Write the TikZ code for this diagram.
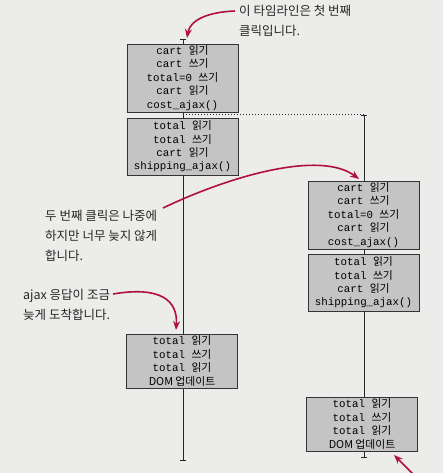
\documentclass[tikz,border=0pt]{standalone}
\usepackage{fontspec}
\setmonofont{Liberation Mono}
\newfontfamily\krfont{Noto Sans CJK KR}
\usetikzlibrary{arrows.meta}
\newcommand\cd[1]{{\ttfamily #1}}
\newcommand\cdk[2]{{\ttfamily #1\ }#2}
\definecolor{paper}{HTML}{ECECEA}
\definecolor{boxfill}{HTML}{C4C4C4}
\definecolor{crim}{HTML}{B01040}
\tikzset{
  opbox/.style={draw=black!80, fill=boxfill, line width=0.9pt, inner sep=0pt,
    minimum width=111pt, align=center, font=\fontsize{10.8}{13.4}\krfont},
  tline/.style={draw=black!85, line width=0.9pt},
  callout/.style={font=\fontsize{12.5}{20}\krfont, align=left, inner sep=0pt, anchor=west, text=black!85},
  pointer/.style={draw=crim, line width=1.6pt, -{Stealth[length=9pt,width=7pt]}},
}
\begin{document}
\begin{tikzpicture}[x=1pt,y=-1pt]
\fill[paper] (0,0) rectangle (443,473);
\useasboundingbox (0,0) rectangle (443,473);
% timelines
\coordinate (lt) at (183,39);
\coordinate (lb) at (183,460);
\coordinate (rt) at (364,115);
\coordinate (rb) at (364,457);
\draw[tline] (lt) -- (lb);
\draw[tline] (rt) -- (rb);
\draw[tline] ([xshift=-3pt]lt) -- ([xshift=3pt]lt);
\draw[tline] ([xshift=-3pt]lb) -- ([xshift=3pt]lb);
\draw[tline] ([xshift=-3pt]rt) -- ([xshift=3pt]rt);
\draw[tline] ([xshift=-3pt]rb) -- ([xshift=3pt]rb);
\coordinate (lsplit) at (183,115);
\draw[black!85, line width=1pt, dotted] (lsplit) -- (rt);
% boxes
\node[opbox, minimum height=68pt] (b1) at (182.5,78)
  {\cdk{cart}{읽기}\\\cdk{cart}{쓰기}\\\cdk{total=0}{쓰기}\\\cdk{cart}{읽기}\\\cd{cost\_ajax()}};
\node[opbox, minimum height=57pt] (b2) at (182.5,146.5)
  {\cdk{total}{읽기}\\\cdk{total}{쓰기}\\\cdk{cart}{읽기}\\\cd{shipping\_ajax()}};
\node[opbox, minimum height=68pt] (b3) at (363.5,215)
  {\cdk{cart}{읽기}\\\cdk{cart}{쓰기}\\\cdk{total=0}{쓰기}\\\cdk{cart}{읽기}\\\cd{cost\_ajax()}};
\node[opbox, minimum height=57pt] (b4) at (363.5,282.5)
  {\cdk{total}{읽기}\\\cdk{total}{쓰기}\\\cdk{cart}{읽기}\\\cd{shipping\_ajax()}};
\node[opbox, minimum height=54pt] (b5) at (182,361)
  {\cdk{total}{읽기}\\\cdk{total}{쓰기}\\\cdk{total}{읽기}\\DOM 업데이트};
\node[opbox, minimum height=54pt] (b6) at (362,424)
  {\cdk{total}{읽기}\\\cdk{total}{쓰기}\\\cdk{total}{읽기}\\DOM 업데이트};
% callouts
\node[callout] (c1) at (239,20.5) {이 타임라인은 첫 번째\\클릭입니다.};
\node[callout] (c2) at (45,236) {두 번째 클릭은 나중에\\하지만 너무 늦지 않게\\합니다.};
\node[callout] (c3) at (23,305) {ajax 응답이 조금\\늦게 도착합니다.};
% pointers
\coordinate (p1s) at (235,11);
\coordinate (p1e) at (187,38);
\draw[pointer] (p1s) .. controls (208,12) and (190,20) .. (p1e);
\coordinate (p2s) at (163,208);
\coordinate (p2e) at (359,179);
\draw[pointer] (p2s) .. controls (230,176) and (320,150) .. (p2e);
\coordinate (p3s) at (113,294);
\coordinate (p3e) at (176,330);
\draw[pointer] (p3s) .. controls (160,286) and (178,300) .. (p3e);
\coordinate (p4s) at (413,474);
\coordinate (p4e) at (394,455);
\draw[pointer] (p4s) -- (p4e);
\end{tikzpicture}
\end{document}
